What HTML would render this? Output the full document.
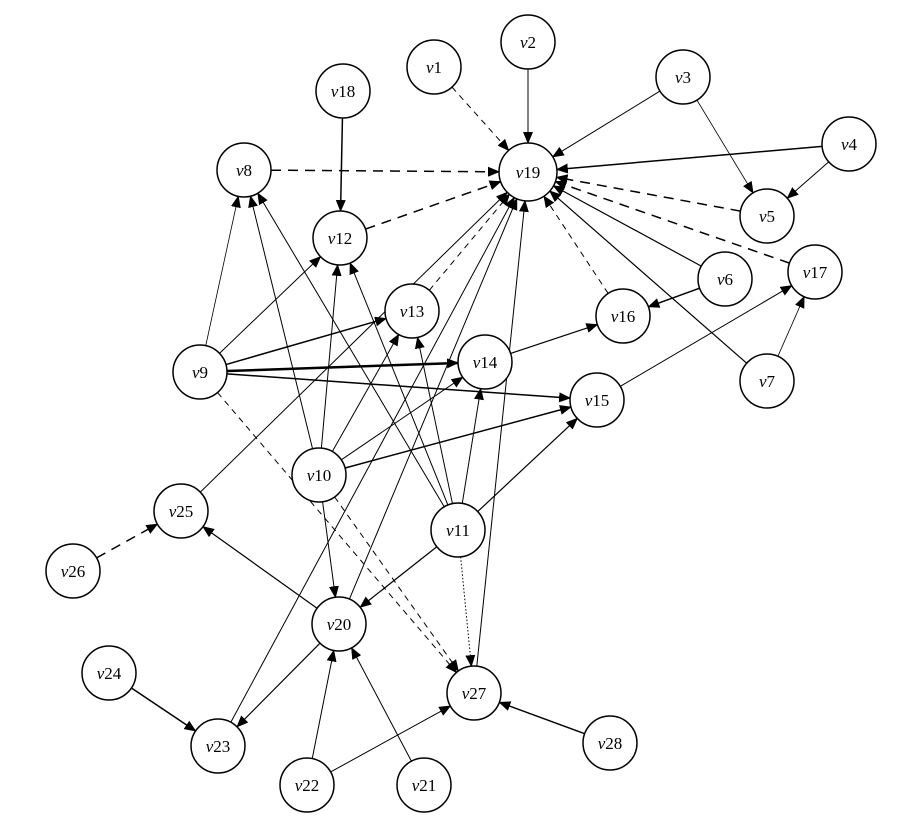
<!DOCTYPE html>
<html><head><meta charset="utf-8"><style>
html,body{margin:0;padding:0;background:#fff;}
svg{display:block}
text{font-family:"Liberation Serif",serif;font-size:17px;}
</style></head><body>
<svg id="s" width="901" height="830" viewBox="0 0 901 830" xmlns="http://www.w3.org/2000/svg">
<defs>
<marker id="a" markerWidth="12" markerHeight="10" refX="11" refY="5" orient="auto" markerUnits="userSpaceOnUse">
<path d="M0,0 L12,5 L0,10 Z" fill="#000"/></marker>
</defs>
<g id="e"></g><g id="n"></g>
</svg>
<script>
var N={1:[434,67],2:[528,42],3:[683,77],4:[849,144],5:[767,216],6:[725,279],7:[767,381],8:[244,170],18:[343,91],12:[340,238],19:[528,172],13:[412,311],14:[485,362],16:[623,316],17:[815,272],9:[200,372],15:[597,400],10:[319,475],25:[181,511],26:[73,571],11:[458,530],20:[339,624],27:[474,693],24:[109,673],23:[218,746],22:[307,785],21:[424,785],28:[610,743]};
var R=27;
var E=[[1,19,'t',1],[2,19,'s',1],[3,19,'s',1],[3,5,'s',0.8],[4,19,'s',1.5],[4,5,'s',1],[5,19,'d',1.5],[17,19,'d',1.5],[6,19,'s',1.2],[6,16,'s',1.5],[7,19,'s',1.2],[7,17,'s',0.8],[16,19,'t',1],[8,19,'d',1.5],[12,19,'d',1.5],[13,19,'t',1],[18,12,'s',1.5],
[9,8,'s',0.8],[9,12,'s',1],[9,13,'s',1.5],[9,14,'s',2.5],[9,15,'s',1.5],[9,27,'t',1],
[10,8,'s',1],[10,12,'s',1],[10,13,'s',1],[10,14,'s',1],[10,15,'s',1.5],[10,20,'s',1],[10,27,'t',1],
[11,8,'s',1],[11,12,'s',1],[11,13,'s',1],[11,14,'s',1],[11,15,'s',1.2],[11,20,'s',1.2],[11,27,'o',1],
[14,16,'s',1.2],[15,17,'s',1],[25,19,'s',1],[20,19,'s',1],[20,25,'s',1.2],[20,23,'s',1.2],[23,19,'s',1],[27,19,'s',1],[26,25,'d',1.5],[24,23,'s',1.5],[22,20,'s',1],[22,27,'s',1],[21,20,'s',1],[28,27,'s',1.5]];
var NS="http://www.w3.org/2000/svg",ge=document.getElementById('e'),gn=document.getElementById('n');
E.forEach(function(x){var a=N[x[0]],b=N[x[1]],dx=b[0]-a[0],dy=b[1]-a[1],L=Math.hypot(dx,dy),ux=dx/L,uy=dy/L;
var l=document.createElementNS(NS,'line');
l.setAttribute('x1',a[0]+ux*R);l.setAttribute('y1',a[1]+uy*R);
var rb=x[1]==19?29:R;
l.setAttribute('x2',b[0]-ux*rb);l.setAttribute('y2',b[1]-uy*rb);
l.setAttribute('stroke','#000');l.setAttribute('stroke-width',x[3]);
if(x[2]=='d')l.setAttribute('stroke-dasharray','10,7');
if(x[2]=='t')l.setAttribute('stroke-dasharray','6,5');
if(x[2]=='o')l.setAttribute('stroke-dasharray','1.5,2');
l.setAttribute('marker-end','url(#a)');ge.appendChild(l);});
for(var k in N){var p=N[k],r=k==19?29:R;
var c=document.createElementNS(NS,'circle');c.setAttribute('cx',p[0]);c.setAttribute('cy',p[1]);c.setAttribute('r',r);
c.setAttribute('fill','#fff');c.setAttribute('stroke','#000');c.setAttribute('stroke-width','1.5');gn.appendChild(c);
var t=document.createElementNS(NS,'text');t.setAttribute('x',p[0]);t.setAttribute('y',p[1]+6);t.setAttribute('text-anchor','middle');
t.innerHTML='<tspan font-style="italic">v</tspan>'+k;gn.appendChild(t);}
</script>
</body></html>
